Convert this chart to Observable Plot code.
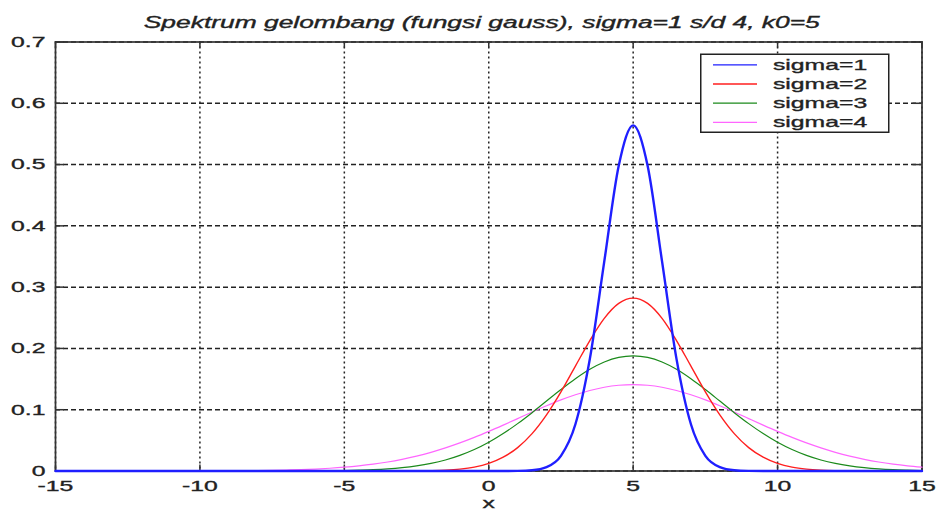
<!DOCTYPE html>
<html>
<head>
<meta charset="utf-8">
<script src="https://cdn.jsdelivr.net/npm/d3@7"></script>
<script src="https://cdn.jsdelivr.net/npm/@observablehq/plot@0.6"></script>
<style>
  body { margin: 0; background: #fff; }
  #chart svg { display: block; }
</style>
</head>
<body>
<div id="chart"></div>
<script>
// Wave spectrum A(k) for four widths, sampled every 0.5 in k
const k = [
  -15, -14.5, -14, -13.5, -13, -12.5, -12, -11.5, -11, -10.5,
  -10, -9.5, -9, -8.5, -8, -7.5, -7, -6.5, -6, -5.5,
  -5, -4.5, -4, -3.5, -3, -2.5, -2, -1.5, -1, -0.5,
  0, 0.5, 1, 1.5, 2, 2.5, 3, 3.5, 4, 4.5,
  5, 5.5, 6, 6.5, 7, 7.5, 8, 8.5, 9, 9.5,
  10, 10.5, 11, 11.5, 12, 12.5, 13, 13.5, 14, 14.5, 15
];

const sigma1 = [
  0, 0, 0, 0, 0, 0, 0, 0, 0, 0,
  0, 0, 0, 0, 0, 0, 0, 0, 0, 0,
  0, 0, 0, 0, 0, 0, 0, 0, 0, 0,
  0, 0, 0.0002, 0.0012, 0.0063, 0.0248, 0.0763, 0.183, 0.342, 0.498,
  0.564, 0.498, 0.342, 0.183, 0.0763, 0.0248, 0.0063, 0.0012, 0.0002, 0,
  0, 0, 0, 0, 0, 0, 0, 0, 0, 0, 0
];

const sigma2 = [
  0, 0, 0, 0, 0, 0, 0, 0, 0, 0,
  0, 0, 0, 0, 0, 0, 0, 0, 0, 0,
  0, 0, 0, 0, 0, 0.0002, 0.0006, 0.0014, 0.0031, 0.0064,
  0.0124, 0.0225, 0.0382, 0.0610, 0.0916, 0.1291, 0.1711, 0.2129, 0.2490, 0.2734,
  0.2820, 0.2734, 0.2490, 0.2129, 0.1711, 0.1291, 0.0916, 0.0610, 0.0382, 0.0225,
  0.0124, 0.0064, 0.0031, 0.0014, 0.0006, 0.0002, 0, 0, 0, 0, 0
];

const sigma3 = [
  0, 0, 0, 0, 0, 0, 0, 0, 0, 0,
  0, 0, 0, 0, 0, 0, 0, 0.0001, 0.0002, 0.0004,
  0.0007, 0.0013, 0.0021, 0.0034, 0.0054, 0.0083, 0.0124, 0.0180, 0.0255, 0.0350,
  0.0469, 0.0611, 0.0773, 0.0952, 0.1141, 0.1329, 0.1506, 0.1660, 0.1779, 0.1855,
  0.1880, 0.1855, 0.1779, 0.1660, 0.1506, 0.1329, 0.1141, 0.0952, 0.0773, 0.0611,
  0.0469, 0.0350, 0.0255, 0.0180, 0.0124, 0.0083, 0.0054, 0.0034, 0.0021, 0.0013, 0.0007
];

const sigma4 = [
  0, 0, 0, 0, 0, 0, 0, 0, 0, 0,
  0.0001, 0.0002, 0.0003, 0.0005, 0.0007, 0.0011, 0.0016, 0.0023, 0.0032, 0.0045,
  0.0062, 0.0084, 0.0112, 0.0147, 0.0191, 0.0243, 0.0305, 0.0377, 0.0458, 0.0548,
  0.0646, 0.0749, 0.0855, 0.0962, 0.1064, 0.1160, 0.1244, 0.1314, 0.1367, 0.1399,
  0.1410, 0.1399, 0.1367, 0.1314, 0.1244, 0.1160, 0.1064, 0.0962, 0.0855, 0.0749,
  0.0646, 0.0548, 0.0458, 0.0377, 0.0305, 0.0243, 0.0191, 0.0147, 0.0112, 0.0084, 0.0062
];

const seriesNames = ["sigma=1", "sigma=2", "sigma=3", "sigma=4"];
const seriesColors = ["#1f1fff", "#ff1f1f", "#1b8a1b", "#ff66ff"];
const seriesWidths = [2.4, 1.4, 1.2, 1.2];

const xTicks = [-15, -10, -5, 0, 5, 10, 15];
const yTicks = [0, 0.1, 0.2, 0.3, 0.4, 0.5, 0.6, 0.7];
const titleText = "Spektrum gelombang (fungsi gauss), sigma=1 s/d 4, k0=5";
const xLabel = "x";

// Layout
const W = 936, H = 512;
const mL = 55, mR = 14.5, mT = 41.5, mB = 41.5;
const frameW = W - mL - mR, frameH = H - mT - mB;
const textStretch = 1.65;
const ink = "#222";

const values = [sigma1, sigma2, sigma3, sigma4];
const rows = values.flatMap((v, s) => k.map((x, i) => ({k: x, a: v[i], s})));

// widest curve first so the narrow one ends up on top
const lineMarks = [3, 2, 1, 0].map(s =>
  Plot.line(rows.filter(r => r.s === s), {
    x: "k", y: "a",
    stroke: seriesColors[s], strokeWidth: seriesWidths[s],
    curve: "monotone-x"
  })
);

const plot = Plot.plot({
  width: W, height: H,
  marginLeft: mL, marginRight: mR, marginTop: mT, marginBottom: mB,
  style: {
    fontFamily: "'Liberation Sans', Arial, sans-serif",
    fontSize: "15px",
    color: ink,
    background: "#fff"
  },
  x: {domain: [-15, 15], ticks: xTicks, tickFormat: d => String(d), tickSize: 0, tickPadding: 9.5, label: null},
  y: {domain: [0, 0.7], ticks: yTicks, tickFormat: d => String(d), tickSize: 0, tickPadding: 10, label: null},
  marks: [
    // grid
    Plot.ruleX(xTicks, {stroke: "#222", strokeWidth: 1.5, strokeDasharray: "2,3"}),
    Plot.ruleY(yTicks, {stroke: "#222", strokeWidth: 1.5, strokeDasharray: "5,3"}),
    // inward tick marks on all four sides
    Plot.ruleX(xTicks, {stroke: "#333", strokeWidth: 1.5, insetTop: frameH - 6}),
    Plot.ruleX(xTicks, {stroke: "#333", strokeWidth: 1.5, insetBottom: frameH - 6}),
    Plot.ruleY(yTicks, {stroke: "#333", strokeWidth: 1.5, insetRight: frameW - 9}),
    Plot.ruleY(yTicks, {stroke: "#333", strokeWidth: 1.5, insetLeft: frameW - 9}),
    Plot.frame({stroke: "#333", strokeWidth: 1.7}),
    ...lineMarks,
    Plot.text([titleText], {
      text: d => d, frameAnchor: "top", lineAnchor: "bottom",
      dx: -7, dy: -14.5, fontSize: 16, fontStyle: "italic", fill: ink
    }),
    Plot.text([xLabel], {
      text: d => d, frameAnchor: "bottom", lineAnchor: "bottom",
      dy: 37, fontSize: 15, fill: ink
    })
  ]
});

// Legend box in the upper right of the axes
const svg = d3.select(plot);
const lg = svg.append("g").attr("text-anchor", "start");
lg.append("rect")
  .attr("x", 700.75).attr("y", 54.25)
  .attr("width", 188).attr("height", 78)
  .attr("fill", "#fff").attr("stroke", ink).attr("stroke-width", 1.5);
seriesNames.forEach((name, i) => {
  const y = 64.8 + 19.2 * i;
  lg.append("line")
    .attr("x1", 713).attr("x2", 757).attr("y1", y).attr("y2", y)
    .attr("stroke", seriesColors[i]).attr("stroke-width", 1.3);
  lg.append("text")
    .attr("x", 773).attr("y", y).attr("dy", "0.32em")
    .attr("text-anchor", "start")
    .attr("fill", ink).attr("font-size", 15)
    .text(name);
});

// Wide, slightly heavy lettering: stretch every label horizontally about its anchor
svg.selectAll("text").each(function () {
  const x = parseFloat(this.getAttribute("x")) || 0;
  const tr = this.getAttribute("transform") || "";
  this.removeAttribute("x");
  this.setAttribute("transform", `${tr} translate(${x},0) scale(${textStretch},1)`);
  this.style.stroke = ink;
  this.style.strokeWidth = "0.35px";
});

document.getElementById("chart").appendChild(plot);
</script>
</body>
</html>
